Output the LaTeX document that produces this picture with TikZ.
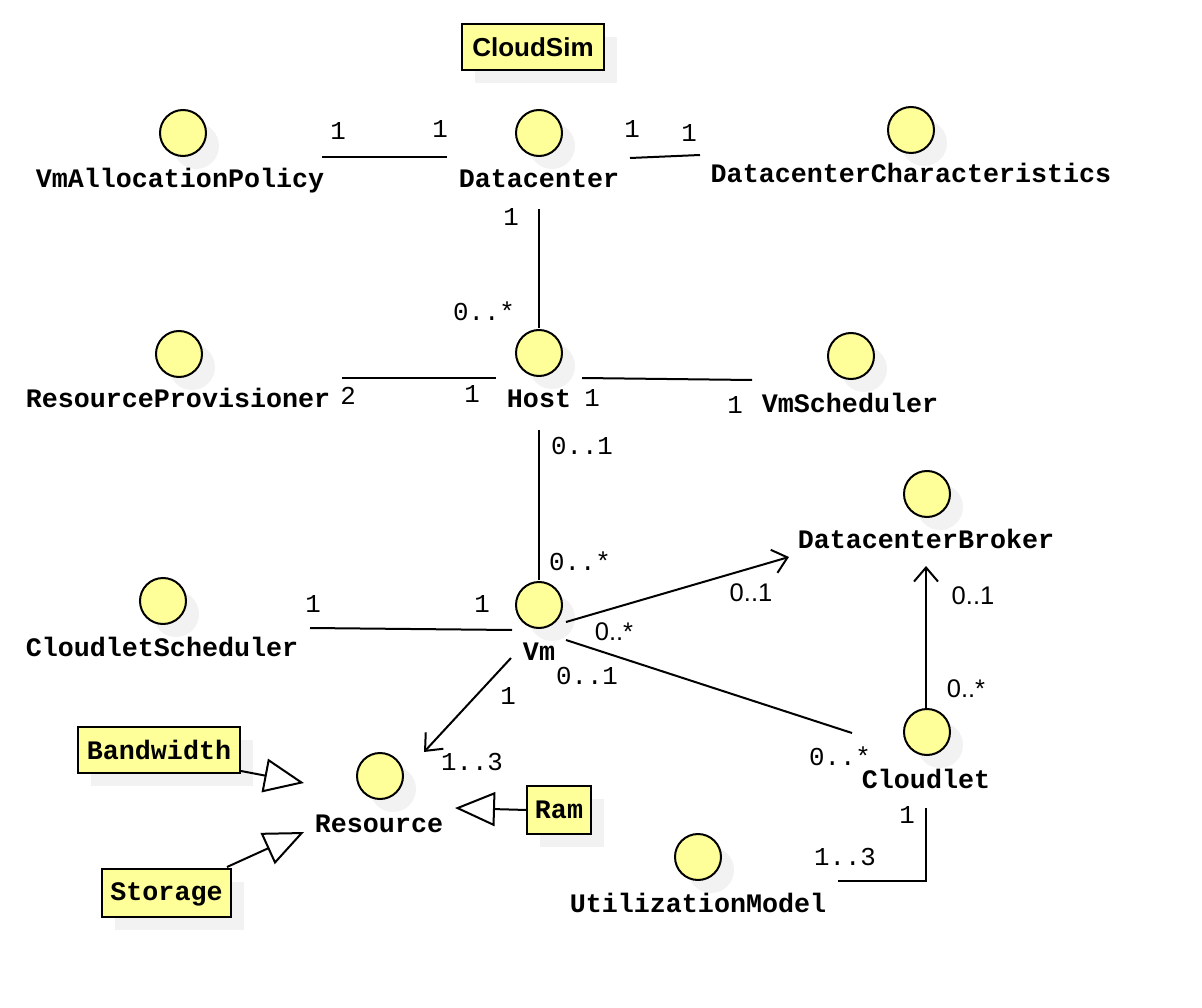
\documentclass[tikz,border=0pt]{standalone}
\usepackage{fontspec}
\setmainfont{Liberation Sans}
\newfontfamily\umlmono{Liberation Mono}
\usetikzlibrary{arrows.meta,shadows}
\definecolor{umlyellow}{RGB}{255,255,153}
\definecolor{umlshadow}{RGB}{242,242,242}
\begin{document}
\begin{tikzpicture}[x=1pt,y=-1pt,
  shad/.style={drop shadow={shadow xshift=13pt,shadow yshift=-13pt,fill=umlshadow,opacity=1}},
  cls/.style={circle,draw,line width=2pt,fill=umlyellow,minimum size=46pt,inner sep=0pt,shad},
  lbl/.style={font=\umlmono\bfseries\fontsize{26.7}{30}\selectfont,anchor=base,inner sep=0pt},
  mult/.style={font=\umlmono\fontsize{25.8}{30}\selectfont,anchor=base,inner sep=0pt},
  multsf/.style={font=\fontsize{25.5}{30}\selectfont,anchor=base,inner sep=0pt},
  ubox/.style={draw,line width=2pt,fill=umlyellow,inner sep=0pt,shad,font=\umlmono\bfseries\fontsize{26.7}{30}\selectfont},
  assoc/.style={line width=2pt},
  nav/.style={line width=2pt,-{Straight Barb[length=14pt,width=24pt,line width=2pt]}},
  gen/.style={line width=2pt,-{Triangle[open,length=40pt,width=34pt,fill=white,line width=2pt]}}]
\useasboundingbox (0,0) rectangle (1202,1008);

% boxes
\node[ubox,font=\bfseries\fontsize{26}{30}\selectfont,minimum width=142pt,minimum height=46pt] (cs) at (533,47) {CloudSim};
\node[ubox,minimum width=162pt,minimum height=46pt] (bw) at (159,750) {Bandwidth};
\node[ubox,minimum width=129pt,minimum height=48pt,text depth=3pt] (st) at (166.5,893) {Storage};
\node[ubox,minimum width=64pt,minimum height=48pt] (ram) at (559,810) {Ram};

% classes
\node[cls] (vap) at (183,133) {};
\node[cls] (dc) at (539,133) {};
\node[cls] (dcc) at (911,130) {};
\node[cls] (rp) at (179,354) {};
\node[cls] (host) at (539,353) {};
\node[cls] (vms) at (851,356) {};
\node[cls] (dcb) at (927,494) {};
\node[cls] (clsch) at (163,601) {};
\node[cls] (vm) at (539,605) {};
\node[cls] (res) at (380,776) {};
\node[cls] (cl) at (927,732) {};
\node[cls] (um) at (698,857) {};

\node[lbl] (vap-l) at (180,188) {VmAllocationPolicy};
\node[lbl] (dc-l) at (539,188) {Datacenter};
\node[lbl] (dcc-l) at (911,183) {DatacenterCharacteristics};
\node[lbl] (rp-l) at (178,407) {ResourceProvisioner};
\node[lbl] (host-l) at (539,407) {Host};
\node[lbl] (vms-l) at (850,412) {VmScheduler};
\node[lbl] (dcb-l) at (926,548) {DatacenterBroker};
\node[lbl] (clsch-l) at (162,656) {CloudletScheduler};
\node[lbl] (vm-l) at (539,660) {Vm};
\node[lbl] (res-l) at (379,832) {Resource};
\node[lbl] (cl-l) at (926,788) {Cloudlet};
\node[lbl] (um-l) at (698,912) {UtilizationModel};

% connector end points
\coordinate (a1) at (322,157); \coordinate (a2) at (447,157);
\coordinate (b1) at (630,158); \coordinate (b2) at (700,155);
\coordinate (c1) at (539,209); \coordinate (c2) at (539,328);
\coordinate (d1) at (342,378); \coordinate (d2) at (496,378);
\coordinate (e1) at (582,378); \coordinate (e2) at (752,380);
\coordinate (f1) at (539,430); \coordinate (f2) at (539,580);
\coordinate (g1) at (310,628); \coordinate (g2) at (512,630);
\coordinate (h1) at (566,622); \coordinate (h2) at (789,557);
\coordinate (i1) at (566,640); \coordinate (i2) at (852,733);
\coordinate (j1) at (926,708); \coordinate (j2) at (926,566);
\coordinate (k1) at (511,658); \coordinate (k2) at (424,752);
\coordinate (m1) at (926,808); \coordinate (m2) at (838,881);
\coordinate (bw-o) at (241,771); \coordinate (res-a) at (304,783);
\coordinate (st-o) at (227,867); \coordinate (res-b) at (304,832);
\coordinate (ram-o) at (527,810); \coordinate (res-c) at (455,808);

\draw[assoc] (a1) -- (a2);
\draw[assoc] (b1) -- (b2);
\draw[assoc] (c1) -- (c2);
\draw[assoc] (d1) -- (d2);
\draw[assoc] (e1) -- (e2);
\draw[assoc] (f1) -- (f2);
\draw[assoc] (g1) -- (g2);
\draw[nav] (h1) -- (h2);
\draw[assoc] (i1) -- (i2);
\draw[nav] (j1) -- (j2);
\draw[nav] (k1) -- (k2);
\draw[assoc] (m1) |- (m2);
\draw[gen] (bw-o) -- (res-a);
\draw[gen] (st-o) -- (res-b);
\draw[gen] (ram-o) -- (res-c);

% multiplicities
\node[mult] at (338,140) {1};
\node[mult] at (440,138) {1};
\node[mult] at (632,138) {1};
\node[mult] at (689,142) {1};
\node[mult] at (511,226) {1};
\node[mult] at (484,320) {0..*};
\node[mult] at (348,404) {2};
\node[mult] at (472,402) {1};
\node[mult] at (592,406) {1};
\node[mult] at (735,413) {1};
\node[mult] at (582,454) {0..1};
\node[mult] at (580,570) {0..*};
\node[mult] at (313,612) {1};
\node[mult] at (482,612) {1};
\node[multsf] at (751,601) {0..1};
\node[multsf] at (614,640) {0..*};
\node[mult] at (587,684) {0..1};
\node[mult] at (840,765) {0..*};
\node[multsf] at (973,604) {0..1};
\node[multsf] at (966,697) {0..*};
\node[mult] at (508,704) {1};
\node[mult] at (472,770) {1..3};
\node[mult] at (907,823) {1};
\node[mult] at (845,865) {1..3};
\end{tikzpicture}
\end{document}
